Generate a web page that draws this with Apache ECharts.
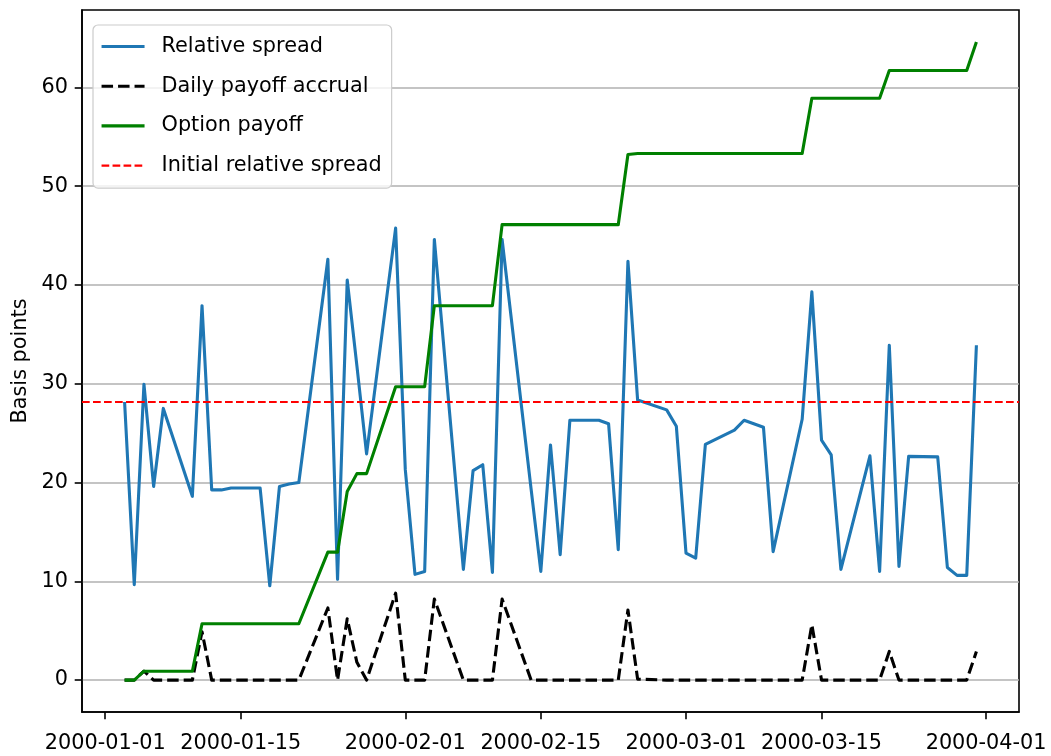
<!DOCTYPE html>
<html>
<head>
<meta charset="utf-8">
<script src="https://cdn.jsdelivr.net/npm/echarts@6/dist/echarts.min.js"></script>
<style>
  html, body { margin: 0; padding: 0; background: #ffffff; }
  #chart { width: 1051px; height: 756px; }
</style>
</head>
<body>
<div id="chart"></div>
<script>
// ---- data ----
var dates = [
  '2000-01-03','2000-01-04','2000-01-05','2000-01-06','2000-01-07',
  '2000-01-10','2000-01-11','2000-01-12','2000-01-13','2000-01-14',
  '2000-01-17','2000-01-18','2000-01-19','2000-01-20','2000-01-21',
  '2000-01-24','2000-01-25','2000-01-26','2000-01-27','2000-01-28',
  '2000-01-31','2000-02-01','2000-02-02','2000-02-03','2000-02-04',
  '2000-02-07','2000-02-08','2000-02-09','2000-02-10','2000-02-11',
  '2000-02-14','2000-02-15','2000-02-16','2000-02-17','2000-02-18',
  '2000-02-21','2000-02-22','2000-02-23','2000-02-24','2000-02-25',
  '2000-02-28','2000-02-29','2000-03-01','2000-03-02','2000-03-03',
  '2000-03-06','2000-03-07','2000-03-08','2000-03-09','2000-03-10',
  '2000-03-13','2000-03-14','2000-03-15','2000-03-16','2000-03-17',
  '2000-03-20','2000-03-21','2000-03-22','2000-03-23','2000-03-24',
  '2000-03-27','2000-03-28','2000-03-29','2000-03-30','2000-03-31'
];
var relativeSpread = [
  28.15, 9.65, 29.95, 19.6, 27.5,
  18.6, 37.9, 19.25, 19.25, 19.45,
  19.45, 9.55, 19.6, 19.85, 20.0,
  42.6, 10.2, 40.5, 31.8, 22.9,
  45.75, 21.3, 10.7, 11.0, 44.6,
  11.2, 21.2, 21.8, 10.9, 44.6,
  19.3, 11.0, 23.8, 12.7, 26.3,
  26.3, 25.95, 13.2, 42.4, 28.35,
  27.35, 25.7, 12.85, 12.35, 23.85,
  25.3, 26.3, 25.95, 25.6, 13.0,
  26.4, 39.3, 24.3, 22.8, 11.2,
  22.7, 11.0, 33.9, 11.5, 22.65,
  22.6, 11.4, 10.6, 10.6, 33.9
];
var dailyPayoffAccrual = [
  0, 0, 0.9, 0, 0,
  0, 4.9, 0, 0, 0,
  0, 0, 0, 0, 0,
  7.3, 0, 6.2, 1.8, 0,
  8.8, 0, 0, 0, 8.2,
  0, 0, 0, 0, 8.2,
  0, 0, 0, 0, 0,
  0, 0, 0, 7.1, 0.1,
  0, 0, 0, 0, 0,
  0, 0, 0, 0, 0,
  0, 5.6, 0, 0, 0,
  0, 0, 2.9, 0, 0,
  0, 0, 0, 0, 2.9
];
var optionPayoff = [
  0, 0, 0.9, 0.9, 0.9,
  0.9, 5.7, 5.7, 5.7, 5.7,
  5.7, 5.7, 5.7, 5.7, 5.7,
  12.95, 12.95, 19.1, 20.9, 20.9,
  29.7, 29.7, 29.7, 29.7, 37.9,
  37.9, 37.9, 37.9, 37.9, 46.1,
  46.1, 46.1, 46.1, 46.1, 46.1,
  46.1, 46.1, 46.1, 53.2, 53.3,
  53.3, 53.3, 53.3, 53.3, 53.3,
  53.3, 53.3, 53.3, 53.3, 53.3,
  53.3, 58.9, 58.9, 58.9, 58.9,
  58.9, 58.9, 61.7, 61.7, 61.7,
  61.7, 61.7, 61.7, 61.7, 64.6
];
var initialRelativeSpread = 28.15;
var xTickLabels = ['2000-01-01','2000-01-15','2000-02-01','2000-02-15','2000-03-01','2000-03-15','2000-04-01'];
var yTickLabels = [0, 10, 20, 30, 40, 50, 60];

// ---- helpers ----
function dayTs(s) {
  var p = s.split('-');
  return Date.UTC(+p[0], +p[1] - 1, +p[2]);
}
var ts = dates.map(dayTs);
function pairs(vals) { return ts.map(function (t, i) { return [t, vals[i]]; }); }

var xFirst = ts[0], xLast = ts[ts.length - 1];
var xSpan = xLast - xFirst;
var xMin = xFirst - 0.05 * xSpan;
var xMax = xLast + 0.05 * xSpan;

var allVals = relativeSpread.concat(dailyPayoffAccrual, optionPayoff, [initialRelativeSpread]);
var vMin = Math.min.apply(null, allVals), vMax = Math.max.apply(null, allVals);
var ySpan = vMax - vMin;
var yMin = vMin - 0.05 * ySpan;
var yMax = vMax + 0.05 * ySpan;

var xTickTs = xTickLabels.map(dayTs);
function labelFor(v) {
  for (var i = 0; i < xTickTs.length; i++) {
    if (Math.abs(xTickTs[i] - v) < 1000) return xTickLabels[i];
  }
  return '';
}

var FONT = 'DejaVu Sans';
var FS = 20.8;

var chart = echarts.init(document.getElementById('chart'), null, { renderer: 'canvas' });
chart.setOption({
  animation: false,
  backgroundColor: '#ffffff',
  grid: {
    left: 82, right: 32, top: 10, bottom: 44,
    show: true, borderColor: '#000000', borderWidth: 1.6, backgroundColor: 'transparent'
  },
  legend: {
    orient: 'vertical',
    left: 93, top: 25,
    padding: [11, 10, 12, 7],
    itemWidth: 43, itemHeight: 20, itemGap: 18.7,
    backgroundColor: 'rgba(255,255,255,0.8)',
    borderColor: '#cccccc', borderWidth: 1.2, borderRadius: 5,
    itemStyle: { opacity: 0 },
    lineStyle: { width: 3.1 },
    textStyle: { fontFamily: FONT, fontSize: FS, color: '#000000', padding: [0, 0, 0, 12] },
    data: [
      { name: 'Relative spread' },
      { name: 'Daily payoff accrual' },
      { name: 'Option payoff' },
      { name: 'Initial relative spread', lineStyle: { width: 2.1 } }
    ]
  },
  xAxis: {
    type: 'value',
    min: xMin, max: xMax,
    scale: true,
    axisLine: { show: true, onZero: false, lineStyle: { color: '#000000', width: 1.6 } },
    axisTick: { show: true, length: 7.3, lineStyle: { color: '#000000', width: 1.6 }, customValues: xTickTs },
    axisLabel: {
      customValues: xTickTs,
      margin: 21,
      fontFamily: FONT, fontSize: FS, color: '#000000',
      hideOverlap: false,
      formatter: function (v) { return labelFor(v); }
    },
    splitLine: { show: false },
    minorTick: { show: false }
  },
  yAxis: {
    type: 'value',
    min: yMin, max: yMax,
    name: 'Basis points',
    nameLocation: 'middle',
    nameGap: 50,
    nameTextStyle: { fontFamily: FONT, fontSize: FS, color: '#000000' },
    axisLine: { show: true, onZero: false, lineStyle: { color: '#000000', width: 1.6 } },
    axisTick: { show: true, length: 7.3, lineStyle: { color: '#000000', width: 1.6 }, customValues: yTickLabels },
    axisLabel: {
      customValues: yTickLabels,
      margin: 14,
      fontFamily: FONT, fontSize: FS, color: '#000000',
      formatter: function (v) { return String(v); }
    },
    splitLine: { show: true, lineStyle: { color: '#b0b0b0', width: 1.7 } }
  },
  series: [
    {
      name: 'Relative spread', type: 'line', data: pairs(relativeSpread),
      symbol: 'none', showSymbol: false,
      lineStyle: { color: '#1f77b4', width: 3.1, join: 'round' },
      itemStyle: { color: '#1f77b4' }
    },
    {
      name: 'Daily payoff accrual', type: 'line', data: pairs(dailyPayoffAccrual),
      symbol: 'none', showSymbol: false,
      lineStyle: { color: '#000000', width: 3.1, type: [11.5, 5], cap: 'butt', join: 'round' },
      itemStyle: { color: '#000000' }
    },
    {
      name: 'Option payoff', type: 'line', data: pairs(optionPayoff),
      symbol: 'none', showSymbol: false,
      lineStyle: { color: '#008000', width: 3.1, join: 'round' },
      itemStyle: { color: '#008000' }
    },
    {
      name: 'Initial relative spread', type: 'line',
      data: [[xMin, initialRelativeSpread], [xMax, initialRelativeSpread]],
      symbol: 'none', showSymbol: false,
      lineStyle: { color: '#ff0000', width: 2.1, type: [7.7, 3.3], cap: 'butt' },
      itemStyle: { color: '#ff0000' }
    }
  ]
});
</script>
</body>
</html>
